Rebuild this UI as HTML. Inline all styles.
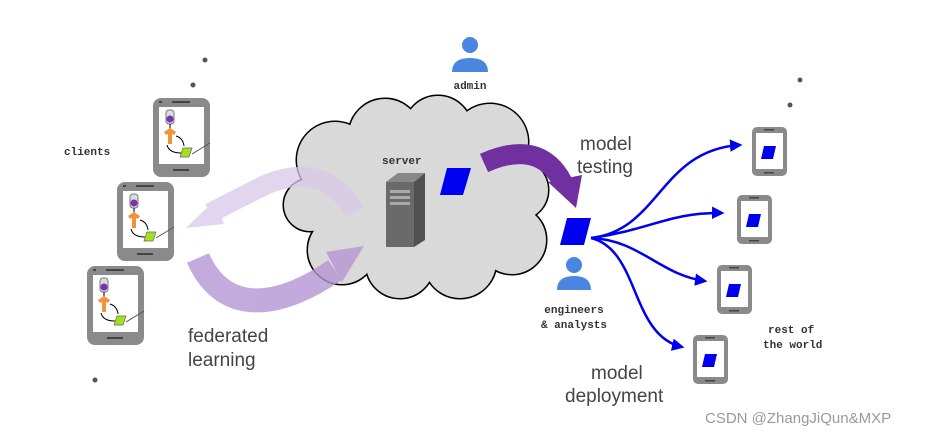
<!DOCTYPE html>
<html><head><meta charset="utf-8"><style>
html,body{margin:0;padding:0;background:#fff;}
svg{display:block;}
.mono{font-family:"Liberation Mono",monospace;font-weight:bold;font-size:11px;fill:#333;}
.big{font-family:"Liberation Sans",sans-serif;font-size:19px;fill:#444;}
</style></head><body>
<svg width="945" height="438" viewBox="0 0 945 438" xmlns="http://www.w3.org/2000/svg">
<defs>
<g id="cphone">
  <rect x="0" y="0" width="57" height="79" rx="8" fill="#8a8a8a"/>
  <rect x="6" y="9" width="45" height="57" fill="#fff"/>
  <rect x="19" y="3" width="18" height="2" fill="#444"/>
  <rect x="6" y="3" width="3" height="2" fill="#444"/>
  <rect x="20" y="71" width="16" height="2" fill="#444"/>
  <rect x="13" y="12" width="8" height="14" rx="3" fill="#ddd" stroke="#777" stroke-width="1"/>
  <circle cx="17" cy="21" r="3.5" fill="#7b2fb5"/>
  <path d="M17,26 L17,31" stroke="#000" stroke-width="1"/>
  <path d="M11,34 L17,30 L23,34 L21,37 L19,36 L19,46 L15,46 L15,36 L13,37Z" fill="#f4923a"/>
  <path d="M23,38 Q30,40 31,48" stroke="#000" stroke-width="1" fill="none"/>
  <path d="M14,47 Q16,55 28,55" stroke="#000" stroke-width="1" fill="none"/>
  <polygon points="30,50 39,50 36,59 27,59" fill="#a6e01a" stroke="#666" stroke-width="0.7"/>
  <path d="M39,56 L57,45" stroke="#555" stroke-width="1"/>
</g>
<g id="rphone">
  <rect x="0" y="0" width="35" height="49" rx="5" fill="#8a8a8a"/>
  <rect x="4" y="6" width="27" height="36" fill="#fff"/>
  <rect x="12" y="2" width="10" height="1.5" fill="#444"/>
  <rect x="12" y="45" width="10" height="1.5" fill="#444"/>
  <polygon points="12,19 24,19 21,32 9,32" fill="#0000f0"/>
</g>
<marker id="bh" viewBox="0 0 10 10" refX="8" refY="5" markerWidth="5" markerHeight="5" orient="auto"><path d="M0,0 L10,5 L0,10Z" fill="#0000ee"/></marker>
</defs>

<circle cx="205" cy="60" r="2.5" fill="#555"/>
<circle cx="193" cy="85" r="2.5" fill="#555"/>
<circle cx="95" cy="380" r="2.5" fill="#555"/>
<circle cx="800" cy="80" r="2.5" fill="#555"/>
<circle cx="790" cy="105" r="2.5" fill="#555"/>

<!-- cloud -->
<g fill="#d9d9d9" stroke="#000" stroke-width="3">
<circle cx="335" cy="160" r="38"/><circle cx="385" cy="135" r="36"/><circle cx="438" cy="130" r="34"/>
<circle cx="490" cy="142" r="38"/><circle cx="518" cy="190" r="30"/><circle cx="512" cy="240" r="34"/>
<circle cx="460" cy="262" r="36"/><circle cx="400" cy="264" r="34"/><circle cx="342" cy="250" r="34"/>
<circle cx="310" cy="205" r="26"/>
</g>
<g fill="#d9d9d9">
<circle cx="335" cy="160" r="38"/><circle cx="385" cy="135" r="36"/><circle cx="438" cy="130" r="34"/>
<circle cx="490" cy="142" r="38"/><circle cx="518" cy="190" r="30"/><circle cx="512" cy="240" r="34"/>
<circle cx="460" cy="262" r="36"/><circle cx="400" cy="264" r="34"/><circle cx="342" cy="250" r="34"/>
<circle cx="310" cy="205" r="26"/><ellipse cx="415" cy="200" rx="100" ry="70"/>
</g>

<polygon points="386,182 398,173 425,173 414,182" fill="#888"/>
<polygon points="414,182 425,173 425,240 414,247" fill="#505050"/>
<rect x="386" y="182" width="28" height="65" fill="#6a6a6a"/>
<rect x="390" y="190" width="20" height="3" fill="#aaa"/>
<rect x="390" y="196" width="20" height="3" fill="#aaa"/>
<rect x="390" y="202" width="20" height="3" fill="#aaa"/>
<polygon points="447,168 471,168 463,195 440,195" fill="#0000f0"/>
<text x="382" y="164" class="mono">server</text>

<g opacity="0.75">
<path d="M355,212 Q325,160 265,185 L210,213" stroke="#d8c8ea" stroke-width="20" fill="none"/>
<polygon points="186,228 215,200 224,224" fill="#d8c8ea"/>
</g>
<g opacity="0.8">
<path d="M198,258 C225,320 285,305 335,270" stroke="#b596d4" stroke-width="24" fill="none"/>
<polygon points="364,246 326,252 342,282" fill="#b596d4"/>
</g>

<path d="M484,163 Q540,138 563,183" stroke="#7030a0" stroke-width="20" fill="none"/>
<polygon points="576,208 548,182 582,175" fill="#7030a0"/>

<circle cx="470" cy="45" r="8" fill="#4a86e0"/>
<path d="M452,72 Q452,58 470,58 Q488,58 488,72Z" fill="#4a86e0"/>
<text x="470" y="89" class="mono" text-anchor="middle">admin</text>

<polygon points="567,218 591,218 584,245 560,245" fill="#0000f0"/>
<circle cx="574" cy="265" r="8" fill="#4a86e0"/>
<path d="M557,290 Q557,276 574,276 Q591,276 591,290Z" fill="#4a86e0"/>
<text x="574" y="313" class="mono" text-anchor="middle">engineers</text>
<text x="574" y="328" class="mono" text-anchor="middle">&amp; analysts</text>

<g stroke="#0000ee" stroke-width="2.5" fill="none" marker-end="url(#bh)">
<path d="M591,238 C660,230 660,150 740,145"/>
<path d="M591,238 C650,230 670,212 722,213"/>
<path d="M591,238 C640,240 660,275 705,281"/>
<path d="M591,238 C640,250 630,335 682,347"/>
</g>

<use href="#rphone" x="752" y="127"/>
<use href="#rphone" x="737" y="195"/>
<use href="#rphone" x="717" y="265"/>
<use href="#rphone" x="693" y="335"/>

<use href="#cphone" x="153" y="98"/>
<use href="#cphone" x="117" y="182"/>
<use href="#cphone" x="87" y="266"/>

<text x="64" y="155" class="mono">clients</text>
<text x="768" y="333" class="mono">rest of</text>
<text x="763" y="348" class="mono">the world</text>

<text x="580" y="150" class="big">model</text>
<text x="577" y="173" class="big">testing</text>
<text x="188" y="342" class="big">federated</text>
<text x="188" y="366" class="big">learning</text>
<text x="591" y="379" class="big">model</text>
<text x="565" y="402" class="big">deployment</text>

<text x="705" y="423" font-family="Liberation Sans,sans-serif" font-size="15" fill="#999">CSDN @ZhangJiQun&amp;MXP</text>
</svg>
</body></html>
